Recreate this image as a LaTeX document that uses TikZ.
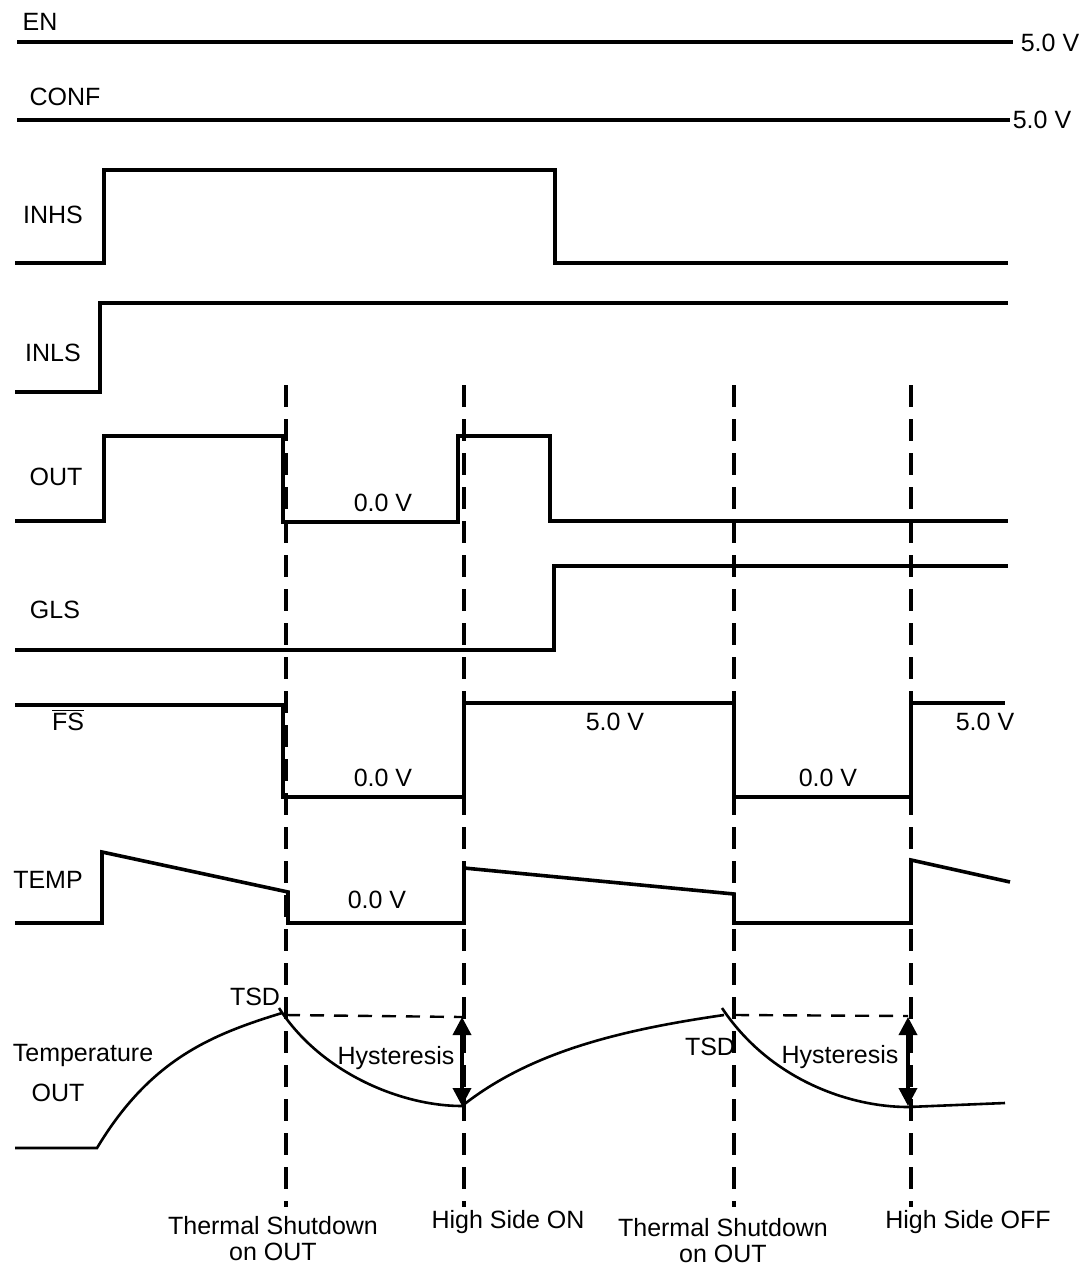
\documentclass[tikz,border=0pt]{standalone}
\usepackage{fontspec}
\setmainfont{Liberation Sans}
\usetikzlibrary{arrows.meta}

\begin{document}
\begin{tikzpicture}[x=0.5pt, y=-0.5pt, font=\fontsize{12.5}{13}\selectfont,
    wave/.style={line width=1.8pt, line join=miter},
    marker/.style={line width=1.8pt, dash pattern=on 11pt off 6pt},
    level/.style={line width=1.2pt, dash pattern=on 7pt off 5pt},
    curve/.style={line width=1.3pt},
    hyst/.style={line width=1.8pt, {Triangle[width=9pt,length=9pt]}-{Triangle[width=9pt,length=9pt]}}]
\useasboundingbox (0,0) rectangle (1083,1268);

% supply lines
\draw[wave] (17,42) -- (1013,42);
\node (enLabel) at (40,22) {EN};
\node (enVolt) at (1050,43) {5.0 V};
\draw[wave] (17,120) -- (1010,120);
\node (confLabel) at (65,97) {CONF};
\node (confVolt) at (1042,120) {5.0 V};

% inputs
\draw[wave] (15,263) -- (104,263) -- (104,170) -- (555,170) -- (555,263) -- (1008,263);
\node (inhsLabel) at (53,215) {INHS};
\draw[wave] (15,392) -- (100,392) -- (100,303) -- (1008,303);
\node (inlsLabel) at (53,353) {INLS};

% event markers
\draw[marker] (286,385) -- (286,1207);
\draw[marker] (464,385) -- (464,1207);
\draw[marker] (734,385) -- (734,1207);
\draw[marker] (911,385) -- (911,1207);

% OUT
\draw[wave] (15,521) -- (104,521) -- (104,436) -- (283,436) -- (283,522) -- (458,522) -- (458,436) -- (550,436) -- (550,521) -- (1008,521);
\node (outLabel) at (56,477) {OUT};
\node (outLow) at (383,503) {0.0 V};

% GLS
\draw[wave] (15,650) -- (554,650) -- (554,566) -- (1008,566);
\node (glsLabel) at (55,610) {GLS};

% FS
\draw[wave] (15,705) -- (283,705) -- (283,797) -- (464,797) -- (464,703) -- (734,703) -- (734,797) -- (911,797) -- (911,703) -- (1005,703);
\node (fsLabel) at (68,720) {$\overline{\mbox{FS}}$};
\node (fsLowA) at (383,778) {0.0 V};
\node (fsHighA) at (615,722) {5.0 V};
\node (fsLowB) at (828,778) {0.0 V};
\node (fsHighB) at (985,722) {5.0 V};

% TEMP
\draw[wave] (15,923) -- (102,923) -- (102,852) -- (288,892) -- (288,923) -- (464,923) -- (464,868) -- (734,894) -- (734,923) -- (911,923) -- (911,860) -- (1010,882);
\node (tempLabel) at (48,880) {TEMP};
\node (tempLow) at (377,900) {0.0 V};

% temperature of OUT
\draw[curve] (15,1148) -- (97,1148) .. controls (150,1060) and (210,1035) .. (282,1013);
\draw[curve] (279,1008) .. controls (320,1072) and (400,1106) .. (462,1106);
\draw[curve] (462,1106) .. controls (530,1052) and (620,1030) .. (724,1015);
\draw[curve] (722,1008) .. controls (770,1080) and (850,1107) .. (908,1107) -- (1005,1103);
\draw[level] (286,1015) -- (462,1017);
\draw[level] (735,1015) -- (908,1016);
\coordinate (hystTopA) at (462,1017);
\coordinate (hystBotA) at (462,1106);
\coordinate (hystTopB) at (908,1017);
\coordinate (hystBotB) at (908,1106);
\draw[hyst] (hystTopA) -- (hystBotA);
\draw[hyst] (hystTopB) -- (hystBotB);
\node (tsdA) at (255,997) {TSD};
\node (tsdB) at (710,1047) {TSD};
\node (hystA) at (396,1058) {Hysteresis};
\node (hystB) at (840,1057) {Hysteresis};
\node (tLabel) at (83,1055) {Temperature};
\node (tOutLabel) at (58,1093) {OUT};

% events
\node[align=center] (evShutA) at (273,1239) {Thermal Shutdown\\on OUT};
\node (evOn) at (508,1222) {High Side ON};
\node[align=center] (evShutB) at (723,1241) {Thermal Shutdown\\on OUT};
\node (evOff) at (968,1222) {High Side OFF};

\end{tikzpicture}
\end{document}
